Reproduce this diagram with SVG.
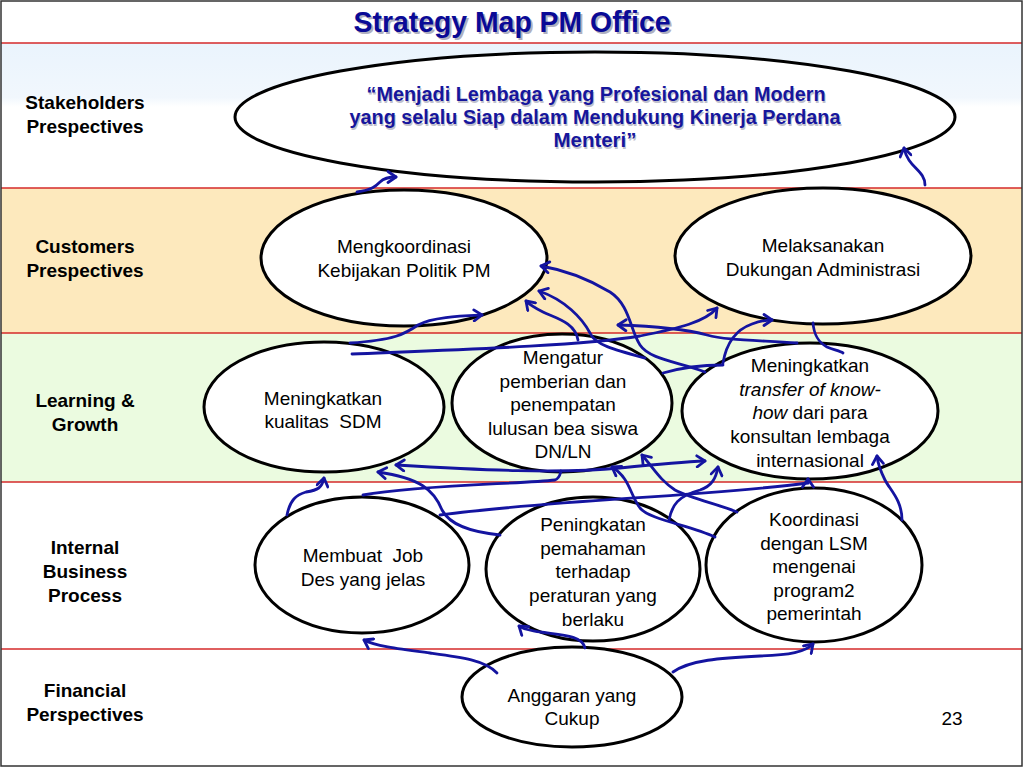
<svg xmlns="http://www.w3.org/2000/svg" width="1024" height="768" viewBox="0 0 1024 768">
<defs>
<marker id="ah" markerWidth="14" markerHeight="14" refX="10" refY="7" orient="auto" markerUnits="userSpaceOnUse">
<path d="M2,1.5 L10,7 L2,12.5" fill="none" stroke="#1414a0" stroke-width="2.8" stroke-linecap="round" stroke-linejoin="round"/>
</marker>
<marker id="ahs" markerWidth="14" markerHeight="14" refX="4" refY="7" orient="auto" markerUnits="userSpaceOnUse">
<path d="M12,1.5 L4,7 L12,12.5" fill="none" stroke="#1414a0" stroke-width="2.8" stroke-linecap="round" stroke-linejoin="round"/>
</marker>
<linearGradient id="sky" x1="0" y1="0" x2="0" y2="1">
<stop offset="0" stop-color="#eaf4fd"/>
<stop offset="0.85" stop-color="#f1f7fd"/>
<stop offset="1" stop-color="#ffffff"/>
</linearGradient>
</defs>
<style>
.sep{stroke:#d42a2a;stroke-width:1.6}
.node{fill:#ffffff;stroke:#000000;stroke-width:3}
.t{font-family:"Liberation Sans",Arial,sans-serif;font-size:19px;fill:#000000;text-anchor:middle;white-space:pre}
.lab{font-family:"Liberation Sans",Arial,sans-serif;font-size:19px;font-weight:bold;fill:#000000;text-anchor:middle}
.q{font-family:"Liberation Sans",Arial,sans-serif;font-size:20px;font-weight:bold;fill:#16169c;text-anchor:middle}
.qs{font-family:"Liberation Sans",Arial,sans-serif;font-size:20px;font-weight:bold;fill:#c0c0cc;text-anchor:middle}
.c{fill:none;stroke:#1414a0;stroke-width:2.8;stroke-linecap:round}
</style>
<rect x="0" y="0" width="1024" height="768" fill="#ffffff"/>
<g id="bands">
<rect x="1" y="43" width="1021" height="64" fill="url(#sky)"/>
<rect x="1" y="188" width="1021" height="145" fill="#fde9bd"/>
<rect x="1" y="333" width="1021" height="149" fill="#ebfbe0"/>
<line class="sep" x1="1" y1="43" x2="1022" y2="43"/>
<line class="sep" x1="1" y1="188" x2="1022" y2="188"/>
<line class="sep" x1="1" y1="333" x2="1022" y2="333"/>
<line class="sep" x1="1" y1="482" x2="1022" y2="482"/>
<line class="sep" x1="1" y1="649" x2="1022" y2="649"/>
<rect x="1" y="1" width="1021" height="765" fill="none" stroke="#333333" stroke-width="1.5"/>
</g>
<g id="title">
<text x="514" y="34" font-family="'Liberation Sans',Arial,sans-serif" font-size="29" font-weight="bold" fill="#b0b0c0" text-anchor="middle" textLength="317" lengthAdjust="spacingAndGlyphs">Strategy Map PM Office</text>
<text x="512" y="32" font-family="'Liberation Sans',Arial,sans-serif" font-size="29" font-weight="bold" fill="#0a0a96" text-anchor="middle" textLength="317" lengthAdjust="spacingAndGlyphs">Strategy Map PM Office</text>
</g>
<g id="labels">
<text class="lab" x="85" y="109">Stakeholders</text>
<text class="lab" x="85" y="133">Prespectives</text>
<text class="lab" x="85" y="253">Customers</text>
<text class="lab" x="85" y="277">Prespectives</text>
<text class="lab" x="85" y="407">Learning &amp;</text>
<text class="lab" x="85" y="431">Growth</text>
<text class="lab" x="85" y="554">Internal</text>
<text class="lab" x="85" y="578">Business</text>
<text class="lab" x="85" y="602">Process</text>
<text class="lab" x="85" y="697">Financial</text>
<text class="lab" x="85" y="721">Perspectives</text>
</g>
<g id="vision">
<ellipse class="node" cx="595" cy="117" rx="360" ry="65"/>
<text class="qs" x="597" y="103" textLength="459" lengthAdjust="spacingAndGlyphs">“Menjadi Lembaga yang Profesional dan Modern</text>
<text class="q" x="596" y="101" textLength="459" lengthAdjust="spacingAndGlyphs">“Menjadi Lembaga yang Profesional dan Modern</text>
<text class="qs" x="596" y="126" textLength="491" lengthAdjust="spacingAndGlyphs">yang selalu Siap dalam Mendukung Kinerja Perdana</text>
<text class="q" x="595" y="124" textLength="491" lengthAdjust="spacingAndGlyphs">yang selalu Siap dalam Mendukung Kinerja Perdana</text>
<text class="qs" x="596" y="149" textLength="83" lengthAdjust="spacingAndGlyphs">Menteri”</text>
<text class="q" x="595" y="147" textLength="83" lengthAdjust="spacingAndGlyphs">Menteri”</text>
</g>
<g id="n-koordinasi-politik">
<ellipse class="node" cx="404" cy="258" rx="143" ry="68"/>
<text class="t" x="404" y="253">Mengkoordinasi</text>
<text class="t" x="404" y="277">Kebijakan Politik PM</text>
</g>
<g id="n-administrasi">
<ellipse class="node" cx="823" cy="256" rx="148" ry="68"/>
<text class="t" x="823" y="252">Melaksanakan</text>
<text class="t" x="823" y="276">Dukungan Administrasi</text>
</g>
<g id="n-sdm">
<ellipse class="node" cx="324" cy="407" rx="120" ry="65"/>
<text class="t" x="323" y="405">Meningkatkan</text>
<text class="t" x="323" y="428">kualitas  SDM</text>
</g>
<g id="n-beasiswa">
<ellipse class="node" cx="562" cy="403" rx="110" ry="69"/>
<text class="t" x="563" y="364">Mengatur</text>
<text class="t" x="563" y="388">pemberian dan</text>
<text class="t" x="563" y="411">penempatan</text>
<text class="t" x="563" y="435">lulusan bea siswa</text>
<text class="t" x="563" y="458">DN/LN</text>
</g>
<g id="n-transfer">
<ellipse class="node" cx="810" cy="411" rx="128" ry="68"/>
<text class="t" x="810" y="372">Meningkatkan</text>
<text class="t" x="810" y="396" font-style="italic">transfer of know-</text>
<text class="t" x="810" y="419"><tspan font-style="italic">how</tspan> dari para</text>
<text class="t" x="810" y="443">konsultan lembaga</text>
<text class="t" x="810" y="467">internasional</text>
</g>
<g id="n-jobdes">
<ellipse class="node" cx="362" cy="565" rx="107" ry="68"/>
<text class="t" x="363" y="562">Membuat  Job</text>
<text class="t" x="363" y="586">Des yang jelas</text>
</g>
<g id="n-peraturan">
<ellipse class="node" cx="593" cy="569" rx="107" ry="72"/>
<text class="t" x="593" y="531">Peningkatan</text>
<text class="t" x="593" y="555">pemahaman</text>
<text class="t" x="593" y="578">terhadap</text>
<text class="t" x="593" y="602">peraturan yang</text>
<text class="t" x="593" y="626">berlaku</text>
</g>
<g id="n-lsm">
<ellipse class="node" cx="814" cy="565" rx="108" ry="77"/>
<text class="t" x="814" y="526">Koordinasi</text>
<text class="t" x="814" y="550">dengan LSM</text>
<text class="t" x="814" y="573">mengenai</text>
<text class="t" x="814" y="597">program2</text>
<text class="t" x="814" y="620">pemerintah</text>
</g>
<g id="n-anggaran">
<ellipse class="node" cx="572" cy="697" rx="110" ry="50"/>
<text class="t" x="572" y="702">Anggaran yang</text>
<text class="t" x="572" y="725">Cukup</text>
</g>
<text x="952" y="725" font-family="'Liberation Sans',Arial,sans-serif" font-size="19" text-anchor="middle">23</text>
<g id="connectors">
<path class="c" marker-end="url(#ah)" d="M357,192 C372,190 376,186 380,182 C384,178 390,177 396,177"/>
<path class="c" marker-end="url(#ah)" d="M925,185 C925,170 908,168 904,148"/>
<path class="c" marker-end="url(#ah)" d="M350,343 C395,340 405,334 418,325 C432,317 460,316 482,315"/>
<path class="c" marker-end="url(#ah)" d="M352,354 C450,350 580,346 640,336 C680,328 705,322 717,308"/>
<path class="c" marker-end="url(#ah)" d="M705,372 C680,362 650,360 640,345 C630,330 630,305 610,292 C590,280 565,270 541,266"/>
<path class="c" marker-end="url(#ah)" d="M645,358 C615,350 595,345 590,333 C582,318 565,300 539,291"/>
<path class="c" marker-end="url(#ah)" d="M578,340 C575,322 555,318 543,312 C535,308 530,305 526,301"/>
<path class="c" marker-end="url(#ah)" d="M797,343 C750,340 725,340 707,335 C685,329 650,326 618,325"/>
<path class="c" marker-end="url(#ah)" d="M723,363 C726,345 735,330 752,324 C760,321 766,320 772,320"/>
<path class="c" d="M813,323 C814,335 818,342 827,347 C834,350 840,351 843,353"/>
<path class="c" d="M663,373 C680,368 700,365 723,365"/>
<path class="c" marker-start="url(#ahs)" marker-end="url(#ah)" d="M396,465 C480,470 560,474 620,468 C650,465 680,462 705,461"/>
<path class="c" marker-end="url(#ah)" d="M500,535 C470,532 450,525 442,510 C434,490 420,478 378,472"/>
<path class="c" marker-end="url(#ah)" d="M287,515 C290,500 296,495 306,492 C318,490 322,488 324,478"/>
<path class="c" d="M363,495 C420,485 520,484 555,480 C560,478 560,474 561,471"/>
<path class="c" marker-end="url(#ah)" d="M440,515 C550,500 700,497 808,483 L808,479"/>
<path class="c" marker-end="url(#ah)" d="M715,537 C690,525 650,520 640,508 C630,495 630,478 612,467"/>
<path class="c" marker-end="url(#ah)" d="M737,512 C720,505 690,498 675,490 C660,480 655,470 642,455"/>
<path class="c" marker-end="url(#ah)" d="M669,520 C672,505 678,496 700,490 C712,486 716,478 718,467"/>
<path class="c" marker-end="url(#ah)" d="M902,520 C902,500 890,490 885,480 C880,470 878,465 877,456"/>
<path class="c" marker-end="url(#ah)" d="M497,673 C485,660 460,657 430,653 C400,649 375,646 364,640"/>
<path class="c" marker-end="url(#ah)" d="M585,648 C582,635 560,635 540,632 C530,630 524,630 519,626"/>
<path class="c" marker-end="url(#ah)" d="M673,672 C690,660 720,658 760,656 C790,655 805,652 813,644"/>
</g>
</svg>
